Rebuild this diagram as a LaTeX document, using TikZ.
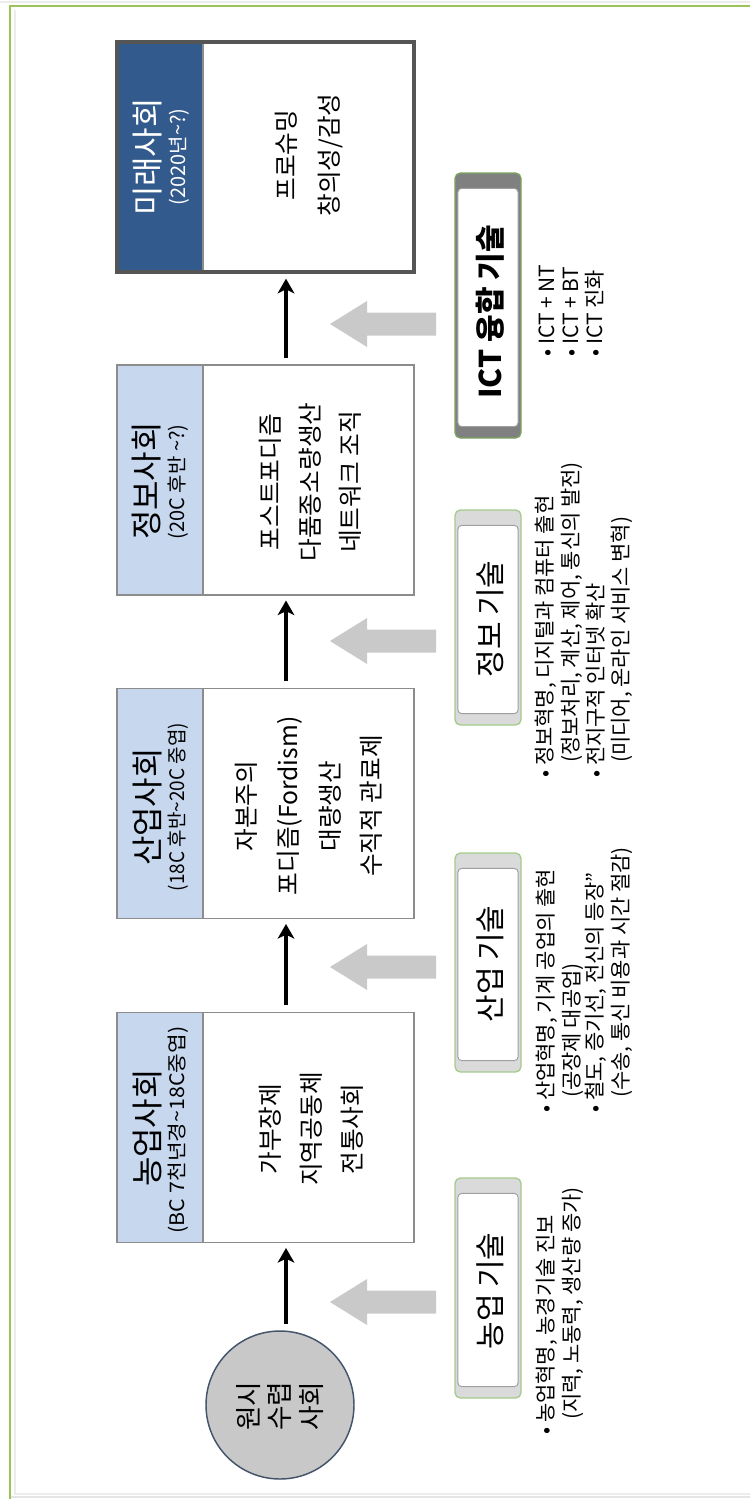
\documentclass[tikz,border=0pt]{standalone}
\usepackage{fontspec}
\usepackage{graphicx}
\setmainfont{Noto Sans CJK KR}
\usetikzlibrary{arrows.meta,calc}
\definecolor{hdrlight}{HTML}{C6D7EE}
\definecolor{hdrdark}{HTML}{335A8C}
\definecolor{boxgray}{HTML}{8C8C8C}
\definecolor{futgray}{HTML}{555555}
\definecolor{garrow}{HTML}{C9C9C9}
\definecolor{framegreen}{HTML}{9BC35A}
\definecolor{techgreen}{HTML}{A3CC8A}
\definecolor{ictgreen}{HTML}{7BA660}
\definecolor{capl}{HTML}{DADADA}
\definecolor{capd}{HTML}{808080}
\definecolor{circfill}{HTML}{C8C8C8}
\definecolor{circline}{HTML}{44546A}
\newcommand\garr[1]{\fill[garrow] (330,#1) -- (367,{#1-23}) -- (367,{#1-11.5}) -- (436,{#1-11.5}) -- (436,{#1+11.5}) -- (367,{#1+11.5}) -- (367,{#1+23}) -- cycle;}
\newcommand\tld{\textasciitilde}
\begin{document}
\begin{tikzpicture}[x=0.75pt,y=-0.75pt,
  socbox/.style={draw=boxgray, line width=1.2pt, fill=white, minimum width=222.75pt, minimum height=172.5pt, inner sep=0pt,
    path picture={\fill[#1] (path picture bounding box.north west) rectangle ([xshift=64.5pt]path picture bounding box.south west);
      \draw[boxgray, line width=0.8pt] ([xshift=64.5pt]path picture bounding box.north west) -- ([xshift=64.5pt]path picture bounding box.south west);}},
  techbox/.style={draw=techgreen, line width=1pt, fill=capl, rounded corners=4pt, minimum width=49.5pt, inner sep=0pt},
  innerbox/.style={fill=white, draw=gray!75, line width=0.7pt, rounded corners=3pt},
  vt/.style={rotate=90, inner sep=0pt},
  title/.style={vt, font=\fontsize{24}{26}\selectfont},
  sub/.style={vt, font=\fontsize{15}{17}\selectfont},
  body/.style={vt, align=center, font=\fontsize{18.5}{31.3}\selectfont},
  techlbl/.style={vt, font=\fontsize{22.5}{24}\selectfont},
  bul/.style={vt, anchor=west, font=\fontsize{15.7}{17}\selectfont},
  arr/.style={line width=2.3pt, -{Stealth[length=11pt,width=12.5pt,inset=3pt]}, shorten <=5pt, shorten >=3.5pt}
]
\useasboundingbox (0,0) rectangle (750,1499);
% frame
\draw[gray!15, line width=1.5pt] (0,2) -- (750,2);
\draw[gray!15, line width=1.5pt] (15,10) -- (15,1494) -- (750,1494);
\draw[gray!20, line width=1.5pt] (10,1497) -- (750,1497);
\draw[framegreen, line width=1.8pt] (10,1499) -- (10,6) -- (750,6);

% society boxes
\node[socbox=hdrdark, draw=futgray, line width=3pt] (fut) at (265.5,157) {};
\node[socbox=hdrlight] (inf) at (265.5,480) {};
\node[socbox=hdrlight] (ind) at (265.5,803.5) {};
\node[socbox=hdrlight] (agr) at (265.5,1127.5) {};

\node[title, text=white] (futt) at (148,157) {미래사회};
\node[sub, text=white] (futs) at (179,157) {(2020년\tld?)};
\node[title] (inft) at (147,481) {정보사회};
\node[sub] (infs) at (178,482) {(20C 후반 \tld?)};
\node[title] (indt) at (148,807) {산업사회};
\node[sub] (inds) at (178,807) {\scalebox{0.95}[1]{(18C 후반\tld20C 중엽)}};
\node[title] (agrt) at (148,1128) {농업사회};
\node[sub] (agrs) at (178,1130) {\scalebox{1.07}[1]{(BC 7천년경\tld18C중엽)}};

\node[body, font=\fontsize{18.5}{32}\selectfont] (futb) at (309,155) {프로슈밍\\창의성/감성};
\node[body, font=\fontsize{18.5}{30}\selectfont] (infb) at (310,482) {포스트포디즘\\다품종소량생산\\네트워크 조직};
\node[body] (indb) at (309,806) {자본주의\\포디즘(Fordism)\\대량생산\\수직적 관료제};
\node[body, font=\fontsize{18.5}{30.7}\selectfont] (agrb) at (311,1129) {가부장제\\지역공동체\\전통사회};

% primitive society
\node[circle, fill=circfill, draw=circline, line width=1.1pt, minimum size=111pt, inner sep=0pt] (prim) at (280,1405) {};
\node[vt, align=center, font=\fontsize{20}{23.5}\selectfont] (primt) at (280,1406) {원시\\수렵\\사회};

% black arrows
\coordinate (ax) at (286,0);
\draw[arr] (prim.north -| ax) -- (agr.south -| ax);
\draw[arr] (agr.north -| ax) -- (ind.south -| ax);
\draw[arr] (ind.north -| ax) -- (inf.south -| ax);
\draw[arr] (inf.north -| ax) -- (fut.south -| ax);

% gray arrows
\garr{324}
\garr{641}
\garr{967}
\garr{1302}

% technology boxes
\node[techbox, draw=ictgreen, fill=capd, minimum height=198.75pt] (ict) at (488,305.5) {};
\node[techbox, minimum height=161.25pt] (inftech) at (488,617.5) {};
\node[techbox, minimum height=164.25pt] (indtech) at (488,962.5) {};
\node[techbox, minimum height=165pt] (agrtech) at (488,1288) {};
\foreach \n in {ict,inftech,indtech,agrtech}{
  \filldraw[innerbox] ($(\n.north west)+(3.5,16)$) rectangle ($(\n.south east)+(-3.5,-12)$);
}
\node[techlbl, font=\fontsize{22.5}{24}\selectfont\bfseries] (ictl) at (490,312) {ICT 융합 기술};
\node[techlbl] (infl) at (490,619) {정보 기술};
\node[techlbl] (indl) at (490,964) {산업 기술};
\node[techlbl] (agrl) at (490,1291) {농업 기술};

% bullets
\node[bul] (ict1) at (547,357) {• ICT + NT};
\node[bul] (ict2) at (571,357) {• ICT + BT};
\node[bul] (ict3) at (595,357) {• ICT 진화};

\node[bul] (inf1) at (546,778) {• 정보혁명, 디지털과 컴퓨터 출현};
\node[bul] (inf2) at (572,763) {(정보처리, 계산, 제어, 통신의 발전)};
\node[bul] (inf3) at (596,778) {• 전지구적 인터넷 확산};
\node[bul] (inf4) at (622,763) {(미디어, 온라인 서비스 변혁)};

\node[bul] (ind1) at (547,1113) {• 산업혁명, 기계 공업의 출현};
\node[bul] (ind2) at (573,1098) {(공장제 대공업)};
\node[bul] (ind3) at (596,1113) {• 철도, 증기선, 전신의 등장”};
\node[bul] (ind4) at (622,1098) {(수송, 통신 비용과 시간 절감)};

\node[bul] (agr1) at (547,1435) {• 농업혁명, 농경기술 진보};
\node[bul] (agr2) at (573,1420) {(지력, 노동력, 생산량 증가)};
\end{tikzpicture}
\end{document}
